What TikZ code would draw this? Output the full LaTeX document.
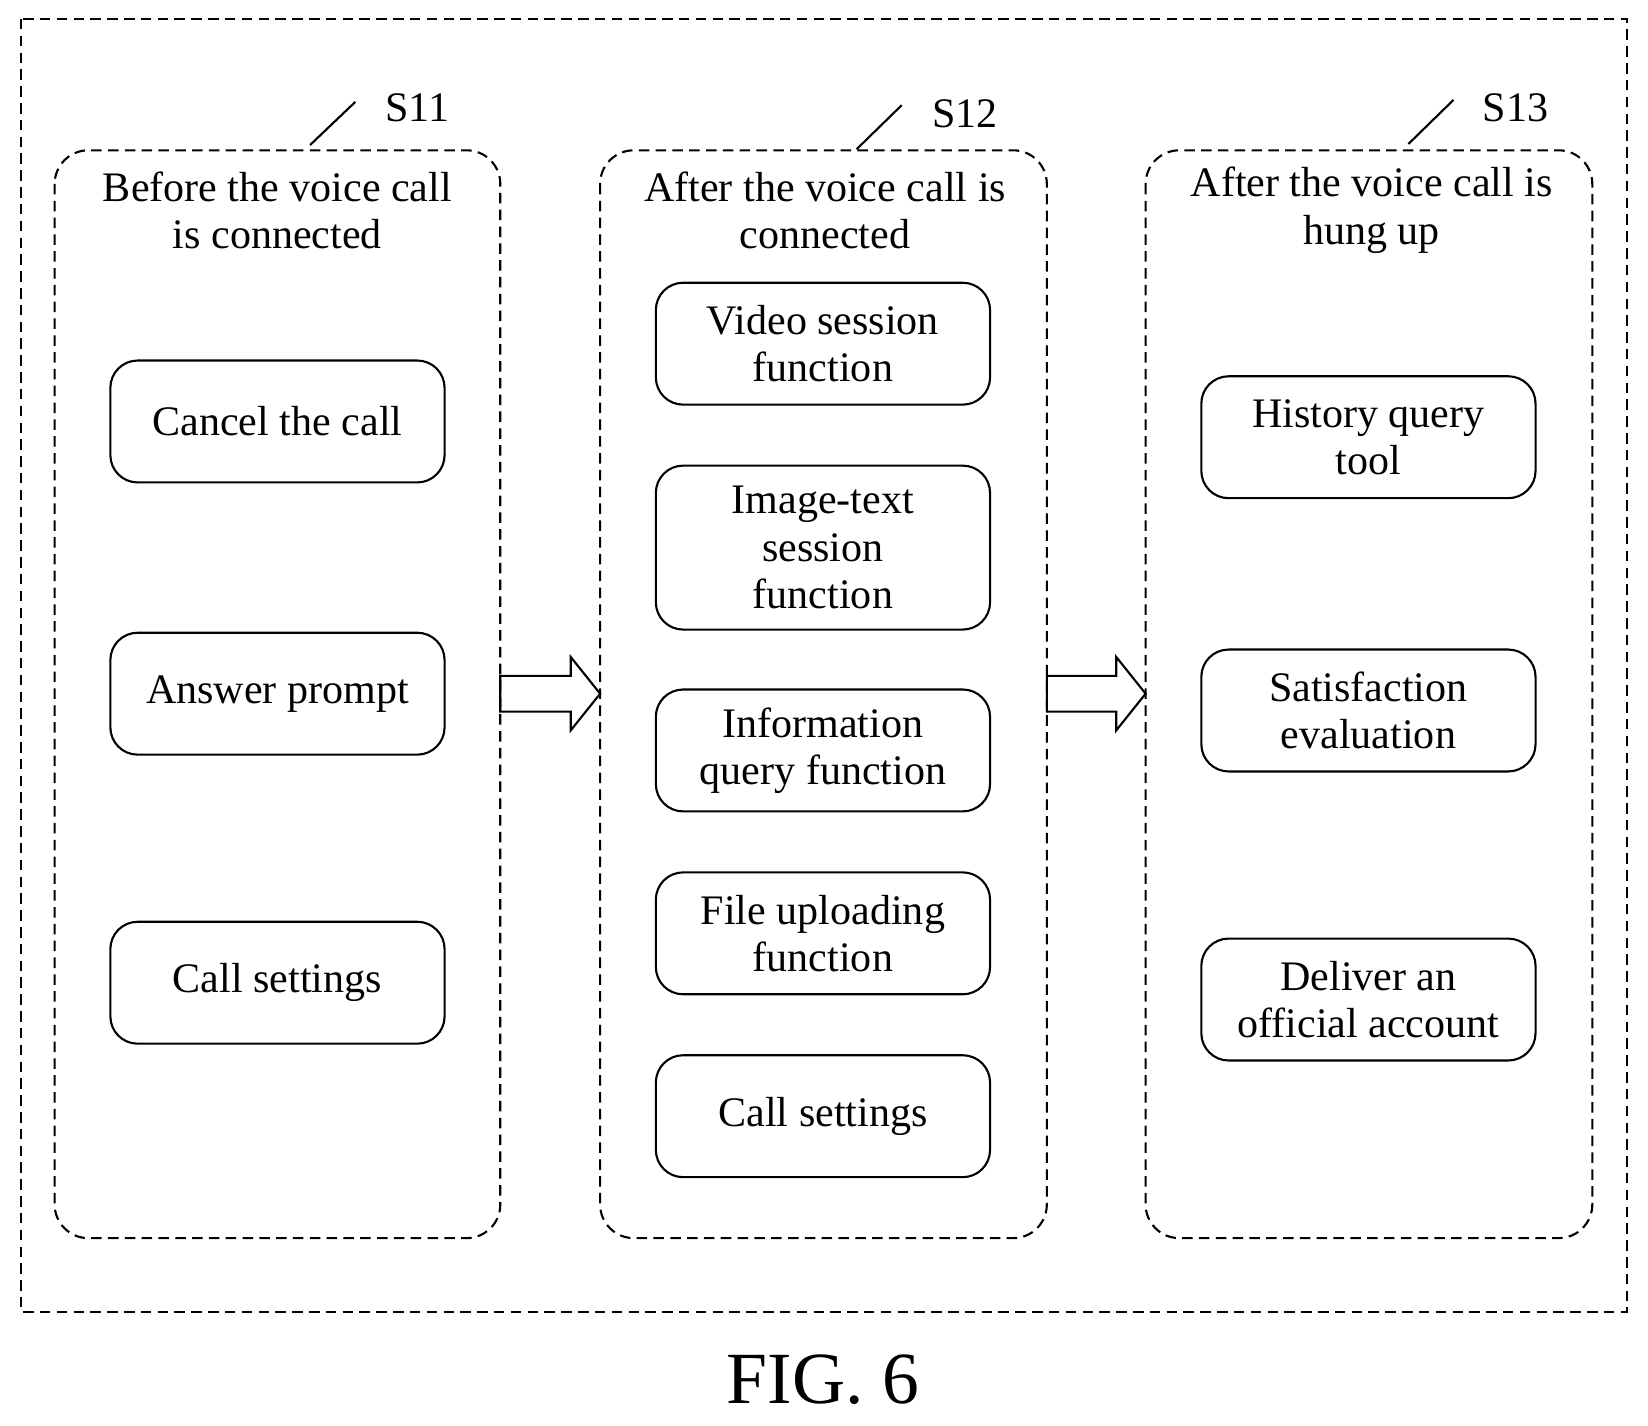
\documentclass[tikz,border=0pt]{standalone}
\usepackage{fontspec}
\setmainfont{Liberation Serif}
\begin{document}
\begin{tikzpicture}[x=0.5pt,y=-0.5pt,
  dsh/.style={line width=1pt,dash pattern=on 5pt off 3pt},
  panel/.style={dsh,rounded corners=16pt},
  box/.style={draw,line width=1pt,rounded corners=13pt,minimum width=159pt,minimum height=58pt,align=center,font=\fontsize{20}{22.5}\selectfont,inner sep=2pt},
  ttl/.style={align=center,font=\fontsize{20}{22.5}\selectfont},
  lab/.style={font=\fontsize{20}{22}\selectfont}]
\useasboundingbox (0,0) rectangle (1568,1356);
\draw[dsh] (20,18) rectangle (1548,1248);
\draw[panel] (52,143) rectangle (476,1178);
\draw[panel] (571,143) rectangle (996,1178);
\draw[panel] (1090,143) rectangle (1515,1178);
\node[lab] (s11) at (397,103) {S11};
\node[lab] (s12) at (918,108) {S12};
\node[lab] (s13) at (1442,103) {S13};
\coordinate (a1) at (295,138); \coordinate (b1) at (338,97);
\coordinate (a2) at (815,142); \coordinate (b2) at (858,100);
\coordinate (a3) at (1340,137); \coordinate (b3) at (1383,95);
\draw[line width=1pt] (a1)--(b1) (a2)--(b2) (a3)--(b3);
\node[ttl] (t1) at (264,200) {Before the voice call\\is connected};
\node[ttl] (t2) at (785,200) {After the voice call is\\connected};
\node[ttl] (t3) at (1305,200) {After the voice call is\\hung up};
\node[box] (c1) at (264,401) {Cancel the call};
\node[box] (c2) at (264,660) {Answer prompt};
\node[box] (c3) at (264,935) {Call settings};
\node[box] (d1) at (783,327) {Video session\\function};
\node[box,minimum height=78pt] (d2) at (783,521) {Image-text\\session\\function};
\node[box] (d3) at (783,714) {Information\\query function};
\node[box] (d4) at (783,888) {File uploading\\function};
\node[box] (d5) at (783,1062) {Call settings};
\node[box] (e1) at (1302,416) {History query\\tool};
\node[box] (e2) at (1302,676) {Satisfaction\\evaluation};
\node[box] (e3) at (1302,951) {Deliver an\\official account};
\draw[line width=1pt] (476,643)--(543,643)--(543,625)--(571,660)--(543,695)--(543,677)--(476,677)--cycle;
\draw[line width=1pt] (996,643)--(1062,643)--(1062,625)--(1090,660)--(1062,695)--(1062,677)--(996,677)--cycle;
\node[font=\fontsize{35}{40}\selectfont] (fig) at (783,1313) {FIG. 6};
\end{tikzpicture}
\end{document}
